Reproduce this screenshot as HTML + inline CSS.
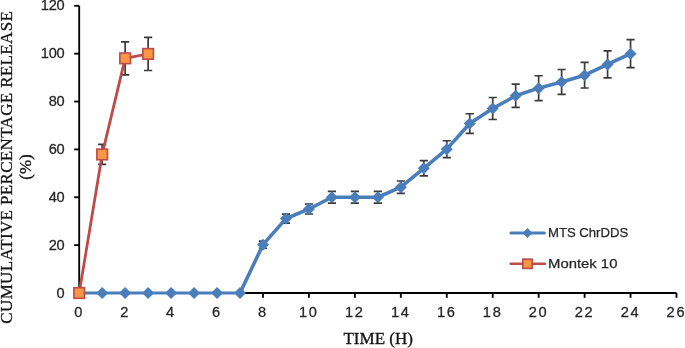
<!DOCTYPE html>
<html><head><meta charset="utf-8"><title>Cumulative percentage release</title>
<style>html,body{margin:0;padding:0;background:#fff}svg{display:block}</style></head>
<body>
<svg width="685" height="348" viewBox="0 0 685 348">
<rect width="685" height="348" fill="#fff"/>
<g stroke="#000" stroke-width="1.85" fill="none">
<path d="M79.2 5.803999999999974 V293.0 H676.498"/>
<path d="M74.2 293.0 H79.2"/>
<path d="M74.2 245.13400000000001 H79.2"/>
<path d="M74.2 197.268 H79.2"/>
<path d="M74.2 149.402 H79.2"/>
<path d="M74.2 101.536 H79.2"/>
<path d="M74.2 53.670000000000016 H79.2"/>
<path d="M74.2 5.803999999999974 H79.2"/>
<path d="M79.2 293.0 V297.8"/>
<path d="M125.146 293.0 V297.8"/>
<path d="M171.09199999999998 293.0 V297.8"/>
<path d="M217.038 293.0 V297.8"/>
<path d="M262.984 293.0 V297.8"/>
<path d="M308.93 293.0 V297.8"/>
<path d="M354.876 293.0 V297.8"/>
<path d="M400.82199999999995 293.0 V297.8"/>
<path d="M446.768 293.0 V297.8"/>
<path d="M492.714 293.0 V297.8"/>
<path d="M538.66 293.0 V297.8"/>
<path d="M584.606 293.0 V297.8"/>
<path d="M630.552 293.0 V297.8"/>
<path d="M676.498 293.0 V297.8"/>
</g>
<g stroke="#3a3a3a" stroke-width="1.7" fill="none">
<path d="M262.984 241.05534 V248.25534 M258.88399999999996 241.05534 H267.084 M258.88399999999996 248.25534 H267.084"/>
<path d="M285.957 214.06837000000002 V223.06837000000002 M281.85699999999997 214.06837000000002 H290.057 M281.85699999999997 223.06837000000002 H290.057"/>
<path d="M308.93 203.99517 V213.99517 M304.83 203.99517 H313.03000000000003 M304.83 213.99517 H313.03000000000003"/>
<path d="M331.90299999999996 191.468 V203.068 M327.80299999999994 191.468 H336.003 M327.80299999999994 203.068 H336.003"/>
<path d="M354.876 191.468 V203.068 M350.77599999999995 191.468 H358.976 M350.77599999999995 203.068 H358.976"/>
<path d="M377.849 191.468 V203.068 M373.74899999999997 191.468 H381.949 M373.74899999999997 203.068 H381.949"/>
<path d="M400.82199999999995 181.01614 V193.41613999999998 M396.7219999999999 181.01614 H404.92199999999997 M396.7219999999999 193.41613999999998 H404.92199999999997"/>
<path d="M423.79499999999996 160.70907 V175.90906999999999 M419.69499999999994 160.70907 H427.895 M419.69499999999994 175.90906999999999 H427.895"/>
<path d="M446.768 140.76266999999999 V157.56267 M442.66799999999995 140.76266999999999 H450.868 M442.66799999999995 157.56267 H450.868"/>
<path d="M469.741 113.75436 V133.35436 M465.64099999999996 113.75436 H473.841 M465.64099999999996 133.35436 H473.841"/>
<path d="M492.714 97.47657000000001 V119.47657000000001 M488.614 97.47657000000001 H496.814 M488.614 119.47657000000001 H496.814"/>
<path d="M515.687 84.19208 V107.39207999999999 M511.587 84.19208 H519.787 M511.587 107.39207999999999 H519.787"/>
<path d="M538.66 75.73352 V100.53352000000001 M534.56 75.73352 H542.76 M534.56 100.53352000000001 H542.76"/>
<path d="M561.633 69.51093999999998 V94.31093999999999 M557.533 69.51093999999998 H565.7330000000001 M557.533 94.31093999999999 H565.7330000000001"/>
<path d="M584.606 62.4097 V88.0097 M580.506 62.4097 H588.706 M580.506 88.0097 H588.706"/>
<path d="M607.5790000000001 50.93985000000001 V77.93985 M603.479 50.93985000000001 H611.6790000000001 M603.479 77.93985 H611.6790000000001"/>
<path d="M630.552 39.670000000000016 V67.67000000000002 M626.452 39.670000000000016 H634.652 M626.452 67.67000000000002 H634.652"/>
<path d="M102.173 144.42793 V164.42793 M98.07300000000001 144.42793 H106.273 M98.07300000000001 164.42793 H106.273"/>
<path d="M125.146 41.83693500000001 V74.83693500000001 M121.046 41.83693500000001 H129.246 M121.046 74.83693500000001 H129.246"/>
<path d="M148.119 37.30932999999998 V70.50932999999998 M144.019 37.30932999999998 H152.219 M144.019 70.50932999999998 H152.219"/>
</g>
<polyline points="240.01,293.00 262.98,244.66 285.96,218.57 308.93,209.00 331.90,197.27 354.88,197.27 377.85,197.27 400.82,187.22 423.79,168.31 446.77,149.16 469.74,123.55 492.71,108.48 515.69,95.79 538.66,88.13 561.63,81.91 584.61,75.21 607.58,64.44 630.55,53.67" fill="none" stroke="#4a7ebb" stroke-width="3.6" stroke-linejoin="round" stroke-linecap="round"/>
<path d="M79.20 293.00 H240.01" fill="none" stroke="#4a7ebb" stroke-width="3.1" stroke-linecap="round"/>
<path d="M79.20 287.00 L85.20 293.00 L79.20 299.00 L73.20 293.00 Z" fill="#4a7ebb"/>
<path d="M102.17 287.00 L108.17 293.00 L102.17 299.00 L96.17 293.00 Z" fill="#4a7ebb"/>
<path d="M125.15 287.00 L131.15 293.00 L125.15 299.00 L119.15 293.00 Z" fill="#4a7ebb"/>
<path d="M148.12 287.00 L154.12 293.00 L148.12 299.00 L142.12 293.00 Z" fill="#4a7ebb"/>
<path d="M171.09 287.00 L177.09 293.00 L171.09 299.00 L165.09 293.00 Z" fill="#4a7ebb"/>
<path d="M194.06 287.00 L200.06 293.00 L194.06 299.00 L188.06 293.00 Z" fill="#4a7ebb"/>
<path d="M217.04 287.00 L223.04 293.00 L217.04 299.00 L211.04 293.00 Z" fill="#4a7ebb"/>
<path d="M240.01 287.00 L246.01 293.00 L240.01 299.00 L234.01 293.00 Z" fill="#4a7ebb"/>
<path d="M262.98 238.66 L268.98 244.66 L262.98 250.66 L256.98 244.66 Z" fill="#4a7ebb"/>
<path d="M285.96 212.57 L291.96 218.57 L285.96 224.57 L279.96 218.57 Z" fill="#4a7ebb"/>
<path d="M308.93 203.00 L314.93 209.00 L308.93 215.00 L302.93 209.00 Z" fill="#4a7ebb"/>
<path d="M331.90 191.27 L337.90 197.27 L331.90 203.27 L325.90 197.27 Z" fill="#4a7ebb"/>
<path d="M354.88 191.27 L360.88 197.27 L354.88 203.27 L348.88 197.27 Z" fill="#4a7ebb"/>
<path d="M377.85 191.27 L383.85 197.27 L377.85 203.27 L371.85 197.27 Z" fill="#4a7ebb"/>
<path d="M400.82 181.22 L406.82 187.22 L400.82 193.22 L394.82 187.22 Z" fill="#4a7ebb"/>
<path d="M423.79 162.31 L429.79 168.31 L423.79 174.31 L417.79 168.31 Z" fill="#4a7ebb"/>
<path d="M446.77 143.16 L452.77 149.16 L446.77 155.16 L440.77 149.16 Z" fill="#4a7ebb"/>
<path d="M469.74 117.55 L475.74 123.55 L469.74 129.55 L463.74 123.55 Z" fill="#4a7ebb"/>
<path d="M492.71 102.48 L498.71 108.48 L492.71 114.48 L486.71 108.48 Z" fill="#4a7ebb"/>
<path d="M515.69 89.79 L521.69 95.79 L515.69 101.79 L509.69 95.79 Z" fill="#4a7ebb"/>
<path d="M538.66 82.13 L544.66 88.13 L538.66 94.13 L532.66 88.13 Z" fill="#4a7ebb"/>
<path d="M561.63 75.91 L567.63 81.91 L561.63 87.91 L555.63 81.91 Z" fill="#4a7ebb"/>
<path d="M584.61 69.21 L590.61 75.21 L584.61 81.21 L578.61 75.21 Z" fill="#4a7ebb"/>
<path d="M607.58 58.44 L613.58 64.44 L607.58 70.44 L601.58 64.44 Z" fill="#4a7ebb"/>
<path d="M630.55 47.67 L636.55 53.67 L630.55 59.67 L624.55 53.67 Z" fill="#4a7ebb"/>
<polyline points="79.20,293.00 102.17,154.43 125.15,58.34 148.12,53.91" fill="none" stroke="#be4b48" stroke-width="2.8" stroke-linejoin="round" stroke-linecap="round"/>
<rect x="73.90" y="287.70" width="10.6" height="10.6" fill="#f79646" stroke="#be4b48" stroke-width="1.6"/>
<rect x="96.87" y="149.13" width="10.6" height="10.6" fill="#f79646" stroke="#be4b48" stroke-width="1.6"/>
<rect x="119.85" y="53.04" width="10.6" height="10.6" fill="#f79646" stroke="#be4b48" stroke-width="1.6"/>
<rect x="142.82" y="48.61" width="10.6" height="10.6" fill="#f79646" stroke="#be4b48" stroke-width="1.6"/>
<g font-family="'Liberation Sans', sans-serif" font-size="13.8" fill="#262626" stroke="#262626" stroke-width="0.25">
<text transform="translate(64.3 297.5) scale(1.06 1)" text-anchor="end" letter-spacing="-0.3">0</text>
<text transform="translate(64.3 249.63400000000001) scale(1.06 1)" text-anchor="end" letter-spacing="-0.3">20</text>
<text transform="translate(64.3 201.768) scale(1.06 1)" text-anchor="end" letter-spacing="-0.3">40</text>
<text transform="translate(64.3 153.902) scale(1.06 1)" text-anchor="end" letter-spacing="-0.3">60</text>
<text transform="translate(64.3 106.036) scale(1.06 1)" text-anchor="end" letter-spacing="-0.3">80</text>
<text transform="translate(64.3 58.170000000000016) scale(1.06 1)" text-anchor="end" letter-spacing="-0.3">100</text>
<text transform="translate(64.3 10.303999999999974) scale(1.06 1)" text-anchor="end" letter-spacing="-0.3">120</text>
<text transform="translate(78.30 317.4) scale(1.06 1)" text-anchor="middle" letter-spacing="0">0</text>
<text transform="translate(124.25 317.4) scale(1.06 1)" text-anchor="middle" letter-spacing="0">2</text>
<text transform="translate(170.19 317.4) scale(1.06 1)" text-anchor="middle" letter-spacing="0">4</text>
<text transform="translate(216.14 317.4) scale(1.06 1)" text-anchor="middle" letter-spacing="0">6</text>
<text transform="translate(262.08 317.4) scale(1.06 1)" text-anchor="middle" letter-spacing="0">8</text>
<text transform="translate(308.88 317.4) scale(1.06 1)" text-anchor="middle" letter-spacing="1.6">10</text>
<text transform="translate(354.82 317.4) scale(1.06 1)" text-anchor="middle" letter-spacing="1.6">12</text>
<text transform="translate(400.77 317.4) scale(1.06 1)" text-anchor="middle" letter-spacing="1.6">14</text>
<text transform="translate(446.72 317.4) scale(1.06 1)" text-anchor="middle" letter-spacing="1.6">16</text>
<text transform="translate(492.66 317.4) scale(1.06 1)" text-anchor="middle" letter-spacing="1.6">18</text>
<text transform="translate(538.61 317.4) scale(1.06 1)" text-anchor="middle" letter-spacing="1.6">20</text>
<text transform="translate(584.55 317.4) scale(1.06 1)" text-anchor="middle" letter-spacing="1.6">22</text>
<text transform="translate(630.50 317.4) scale(1.06 1)" text-anchor="middle" letter-spacing="1.6">24</text>
<text transform="translate(676.45 317.4) scale(1.06 1)" text-anchor="middle" letter-spacing="1.6">26</text>
<text x="548.0" y="237.4" textLength="80.2" lengthAdjust="spacingAndGlyphs" font-size="13.7">MTS ChrDDS</text>
<text x="548.0" y="268.3" textLength="69.4" lengthAdjust="spacingAndGlyphs" font-size="13.7">Montek 10</text>
</g>
<path d="M511 233 H544.4" stroke="#4a7ebb" stroke-width="3.1" stroke-linecap="round"/>
<path d="M527.5 228.1 L532.4 233 L527.5 237.9 L522.6 233 Z" fill="#4a7ebb"/>
<path d="M510.6 263.8 H544.8" stroke="#be4b48" stroke-width="2.5" stroke-linecap="round"/>
<rect x="522.9" y="259.2" width="9.2" height="9.2" fill="#f79646" stroke="#be4b48" stroke-width="1.7"/>
<g font-family="'Liberation Serif', serif" fill="#111" stroke="#111" stroke-width="0.3">
<text x="378.2" y="343.6" text-anchor="middle" font-size="17" textLength="69.6" lengthAdjust="spacingAndGlyphs">TIME (H)</text>
<text transform="translate(12.2 167.4) rotate(-90)" text-anchor="middle" font-size="17" textLength="312.6" lengthAdjust="spacing">CUMULATIVE PERCENTAGE RELEASE</text>
<text transform="translate(31.3 167) rotate(-90)" text-anchor="middle" font-size="17">(%)</text>
</g>
</svg>
</body></html>
